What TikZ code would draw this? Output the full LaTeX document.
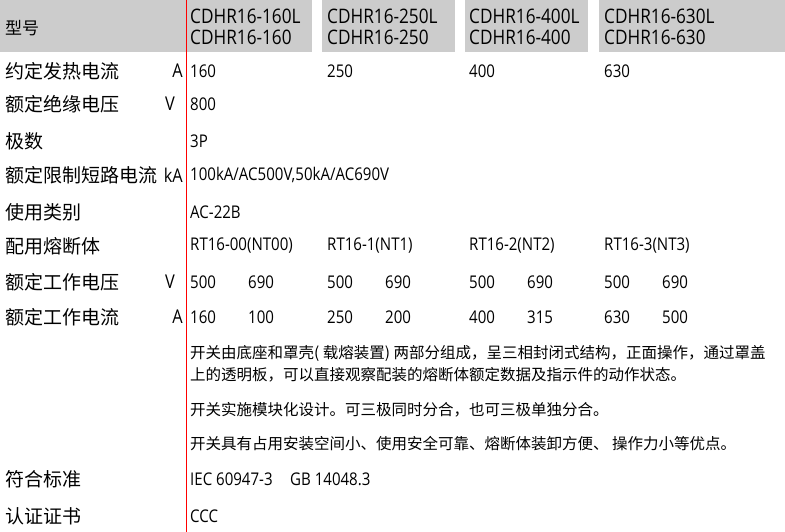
\documentclass[tikz,border=0pt]{standalone}
\usepackage{fontspec}
\setmainfont{Noto Sans CJK SC}
\newfontfamily\lat[FakeStretch=0.86]{Open Sans}
\tikzset{cell/.style={anchor=west,inner sep=0pt,font=\fontsize{19}{22}\selectfont},
  num/.style={cell,font=\lat\fontsize{17.5}{20}\selectfont},
  unit/.style={anchor=east,inner sep=0pt,font=\lat\fontsize{19}{22}\selectfont}}
\begin{document}
\begin{tikzpicture}[x=1pt,y=-1pt]
  \useasboundingbox (0,0) rectangle (785,532);
  \fill[gray!40] (0,0) rectangle (312,52);
  \fill[gray!40] (322,0) rectangle (455,52);
  \fill[gray!40] (465,0) rectangle (588,52);
  \fill[gray!40] (599,0) rectangle (785,52);
  \node[cell,font=\fontsize{17}{20}\selectfont] (h0) at (5,28) {型号};
  \foreach \x/\m [count=\i] in {190/160,327/250,469/400,604/630}
    \node[cell,align=left,font=\lat\fontsize{20}{21}\selectfont] (h\i) at (\x,27) {CDHR16-\m L\\CDHR16-\m};
  % labels
  \foreach \y/\t [count=\i] in {71/约定发热电流,104/额定绝缘电压,141/极数,175/额定限制短路电流,212/使用类别,246/配用熔断体,282/额定工作电压,317/额定工作电流,479/符合标准,516/认证证书}
    \node[cell] (l\i) at (5,\y) {\t};
  \node[unit] (u1) at (183,71) {A};
  \node[unit] (u2) at (175,104) {V};
  \node[unit] (u4) at (183,175) {kA};
  \node[unit] (u7) at (175,282) {V};
  \node[unit] (u8) at (183,317) {A};
  \foreach \x/\v [count=\i] in {190/160,327/250,469/400,604/630}
    \node[num] (a\i) at (\x,71) {\v};
  \node[num] (b1) at (190,104) {800};
  \node[num] (c1) at (190,141) {3P};
  \node[num] (d1) at (190,175) {100kA/AC500V,50kA/AC690V};
  \node[num] (e1) at (190,212) {AC-22B};
  \foreach \x/\v [count=\i] in {190/RT16-00(NT00),327/RT16-1(NT1),469/RT16-2(NT2),604/RT16-3(NT3)}
    \node[num] (f\i) at (\x,246) {\v};
  \foreach \x/\v [count=\i] in {190/500,248/690,327/500,385/690,469/500,527/690,604/500,662/690}
    \node[num] (g\i) at (\x,282) {\v};
  \foreach \x/\v [count=\i] in {190/160,248/100,327/250,385/200,469/400,527/315,604/630,662/500}
    \node[num] (k\i) at (\x,317) {\v};
  \node[cell,font=\fontsize{15.5}{22}\selectfont,align=left] (p1) at (190,364)
    {开关由底座和罩壳( 载熔装置) 两部分组成，呈三相封闭式结构，正面操作，通过罩盖\\上的透明板，可以直接观察配装的熔断体额定数据及指示件的动作状态。};
  \node[cell,font=\fontsize{15.5}{18}\selectfont] (p2) at (190,410) {开关实施模块化设计。可三极同时分合，也可三极单独分合。};
  \node[cell,font=\fontsize{15.5}{18}\selectfont] (p3) at (190,444) {开关具有占用安装空间小、使用安全可靠、熔断体装卸方便、 操作力小等优点。};
  \node[num] (s1) at (190,479) {IEC 60947-3\quad GB 14048.3};
  \node[num] (t1) at (190,516) {CCC};
  \draw[red,line width=1pt] (186,0) -- (186,532);
\end{tikzpicture}
\end{document}
